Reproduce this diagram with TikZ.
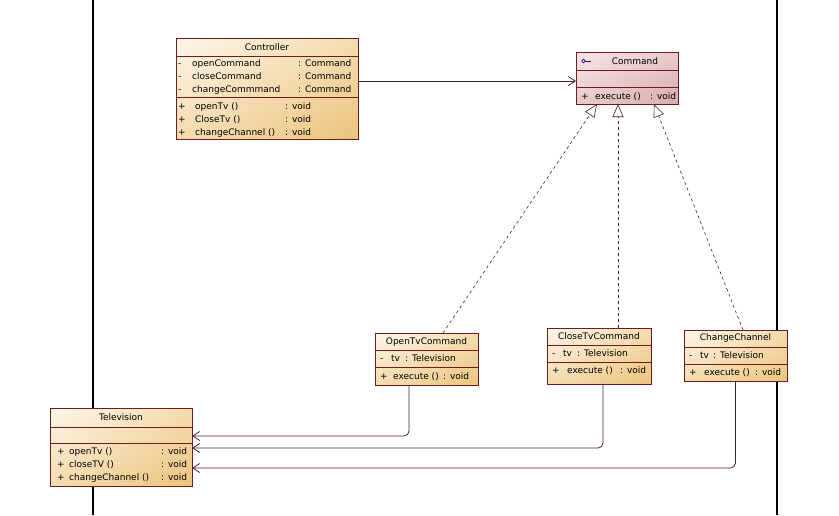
\documentclass[tikz,border=0pt]{standalone}
\usepackage{fontspec}
\setmainfont{DejaVu Sans}
\usepackage{array}
\usepackage{tikz}
\usetikzlibrary{
        arrows.meta,
        positioning,
        shadings
    }
\definecolor{umlborder}{HTML}{6E1C1C}
\definecolor{umlline}{HTML}{4A1E32}
\definecolor{umlicon}{HTML}{2A2060}
\definecolor{classlight}{HTML}{FDF6EB}
\definecolor{classmid}{HTML}{F5DCAF}
\definecolor{classdark}{HTML}{EBC47E}
\definecolor{ifacelight}{HTML}{F6E6E7}
\definecolor{ifacemid}{HTML}{E9CACC}
\definecolor{ifacedark}{HTML}{DAACAF}
\tikzset{umlfont/.style={font=\fontsize{9}{13}\selectfont}}
\tikzset{class box/.style={draw=umlborder,line width=0.8pt,inner sep=0pt,outer sep=0pt,
        upper left=classlight,upper right=classmid,lower left=classmid,lower right=classdark}}
\tikzset{interface box/.style={class box,
        upper left=ifacelight,upper right=ifacemid,lower left=ifacemid,lower right=ifacedark}}
\tikzset{divider/.style={draw=umlborder,line width=0.8pt}}
\tikzset{title/.style={umlfont,inner sep=0pt}}
\tikzset{member/.style={umlfont,inner sep=0pt,anchor=base west}}
\tikzset{assoc/.style={draw=umlline,line width=0.8pt,-{Straight Barb[length=7pt,width=9pt]}}}
\tikzset{realize/.style={draw=umlline,line width=0.6pt,dash pattern=on 3pt off 3pt,
        -{Triangle[open,length=13pt,width=11pt,fill=white]}}}

\begin{document}
\begin{tikzpicture}[x=1pt,y=-1pt]
				\useasboundingbox (0,0) rectangle (839,515);
				\draw[line width=1.2pt] (93,0) -- (93,515);
				\draw[line width=1.2pt] (777,0) -- (777,515);
				% Controller
				\node[class box,minimum width=182pt,minimum height=101pt] (ctrl) at (267,88.5) {};
				\draw[divider] (ctrl.north west) ++(0,18) -- ++(182,0);
				\draw[divider] (ctrl.north west) ++(0,59) -- ++(182,0);
				\node[title] (ctrl-name) at (267,47) {Controller};
				\node[member] (ctrl-attr) at (178,66.3) {\begin{tabular}[t]{@{}p{14pt}@{}p{106pt}@{}l@{}}
					- & openCommand & : Command\\
					- & closeCommand & : Command\\
					- & changeCommmand & : Command
				\end{tabular}};
				\node[member] (ctrl-ops) at (178,109.3) {\begin{tabular}[t]{@{}p{17pt}@{}p{90pt}@{}l@{}}
					+ & openTv () & : void\\
					+ & CloseTv () & : void\\
					+ & changeChannel () & : void
				\end{tabular}};
				% Command
				\node[interface box,minimum width=102pt,minimum height=52pt] (cmd) at (627,78) {};
				\draw[divider] (cmd.north west) ++(0,18) -- ++(102,0);
				\draw[divider] (cmd.north west) ++(0,35) -- ++(102,0);
				\node[title] (cmd-name) at (635,61) {Command};
				\draw[umlicon,line width=0.7pt] (583.5,61) circle[radius=1.8pt];
				\draw[umlicon,line width=0.7pt] (585.3,61) -- (591,61);
				\node[member] (cmd-ops) at (581,99.3) {\begin{tabular}[t]{@{}p{14pt}@{}p{55pt}@{}l@{}}
					+ & execute () & : void
				\end{tabular}};
				% OpenTvCommand
				\node[class box,minimum width=103pt,minimum height=52pt] (opentv) at (426.5,359) {};
				\draw[divider] (opentv.north west) ++(0,17) -- ++(103,0);
				\draw[divider] (opentv.north west) ++(0,34) -- ++(103,0);
				\node[title] (opentv-name) at (426.5,342) {OpenTvCommand};
				\node[member] (opentv-attr) at (380,361.3) {\begin{tabular}[t]{@{}p{11pt}@{}p{14pt}@{}l@{}}
					- & tv & : Television
				\end{tabular}};
				\node[member] (opentv-ops) at (380,379.3) {\begin{tabular}[t]{@{}p{13pt}@{}p{50pt}@{}l@{}}
					+ & execute () & : void
				\end{tabular}};
				% CloseTvCommand
				\node[class box,minimum width=104pt,minimum height=56pt] (closetv) at (599,356) {};
				\draw[divider] (closetv.north west) ++(0,17) -- ++(104,0);
				\draw[divider] (closetv.north west) ++(0,34) -- ++(104,0);
				\node[title] (closetv-name) at (599,336) {CloseTvCommand};
				\node[member] (closetv-attr) at (552,356.3) {\begin{tabular}[t]{@{}p{11pt}@{}p{14pt}@{}l@{}}
					- & tv & : Television
				\end{tabular}};
				\node[member] (closetv-ops) at (552,373.3) {\begin{tabular}[t]{@{}p{15pt}@{}p{53pt}@{}l@{}}
					+ & execute () & : void
				\end{tabular}};
				% ChangeChannel
				\node[class box,minimum width=103pt,minimum height=51pt] (change) at (735.5,355.5) {};
				\draw[divider] (change.north west) ++(0,17) -- ++(103,0);
				\draw[divider] (change.north west) ++(0,34) -- ++(103,0);
				\node[title] (change-name) at (735.5,338) {ChangeChannel};
				\node[member] (change-attr) at (689,358.3) {\begin{tabular}[t]{@{}p{11pt}@{}p{13pt}@{}l@{}}
					- & tv & : Television
				\end{tabular}};
				\node[member] (change-ops) at (689,375.3) {\begin{tabular}[t]{@{}p{15pt}@{}p{51pt}@{}l@{}}
					+ & execute () & : void
				\end{tabular}};
				% Television
				\node[class box,minimum width=142pt,minimum height=78pt] (tv) at (121,447) {};
				\draw[divider] (tv.north west) ++(0,19) -- ++(142,0);
				\draw[divider] (tv.north west) ++(0,35) -- ++(142,0);
				\node[title] (tv-name) at (121,417) {Television};
				\node[member] (tv-ops) at (57,454.3) {\begin{tabular}[t]{@{}p{12pt}@{}p{92pt}@{}l@{}}
					+ & openTv () & : void\\
					+ & closeTV () & : void\\
					+ & changeChannel () & : void
				\end{tabular}};
				% connectors
				\coordinate (cmdin) at ([yshift=-3pt]cmd.west);
				\draw[assoc] (ctrl.east |- cmdin) -- (cmdin);
				\draw[realize] ([xshift=16.5pt]opentv.north) -- ([xshift=-30pt]cmd.south);
				\draw[realize] ([xshift=19pt]closetv.north) -- ([xshift=-9pt]cmd.south);
				\draw[realize] ([xshift=7.5pt]change.north) -- ([xshift=27pt]cmd.south);
				\draw[assoc,rounded corners=5pt] ([xshift=-17.5pt]opentv.south) |- ([yshift=11pt]tv.east);
				\draw[assoc,rounded corners=5pt] ([xshift=4pt]closetv.south) |- ([yshift=-1pt]tv.east);
				\draw[assoc,rounded corners=5pt] (change.south) |- ([yshift=-21pt]tv.east);
			\end{tikzpicture}
\end{document}
